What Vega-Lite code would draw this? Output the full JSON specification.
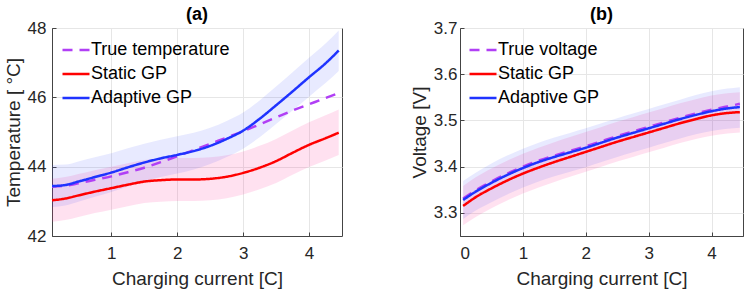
{
  "$schema": "https://vega.github.io/schema/vega-lite/v6.json",
  "padding": {"left": 3, "top": 5, "right": 0, "bottom": 0},
  "background": "white",
  "datasets": {
    "a": [
      {"series": "Adaptive GP", "x": 0.1, "y": 43.44, "lo": 42.84, "hi": 44.05},
      {"series": "Adaptive GP", "x": 0.3, "y": 43.47, "lo": 42.88, "hi": 44.06},
      {"series": "Adaptive GP", "x": 0.5, "y": 43.57, "lo": 42.99, "hi": 44.15},
      {"series": "Adaptive GP", "x": 0.75, "y": 43.70, "lo": 43.13, "hi": 44.27},
      {"series": "Adaptive GP", "x": 1.0, "y": 43.83, "lo": 43.27, "hi": 44.39},
      {"series": "Adaptive GP", "x": 1.25, "y": 43.98, "lo": 43.43, "hi": 44.53},
      {"series": "Adaptive GP", "x": 1.5, "y": 44.12, "lo": 43.58, "hi": 44.66},
      {"series": "Adaptive GP", "x": 1.75, "y": 44.24, "lo": 43.70, "hi": 44.78},
      {"series": "Adaptive GP", "x": 2.0, "y": 44.34, "lo": 43.80, "hi": 44.88},
      {"series": "Adaptive GP", "x": 2.25, "y": 44.45, "lo": 43.92, "hi": 44.98},
      {"series": "Adaptive GP", "x": 2.5, "y": 44.60, "lo": 44.08, "hi": 45.12},
      {"series": "Adaptive GP", "x": 2.75, "y": 44.80, "lo": 44.28, "hi": 45.32},
      {"series": "Adaptive GP", "x": 3.0, "y": 45.04, "lo": 44.52, "hi": 45.56},
      {"series": "Adaptive GP", "x": 3.25, "y": 45.38, "lo": 44.85, "hi": 45.91},
      {"series": "Adaptive GP", "x": 3.5, "y": 45.77, "lo": 45.23, "hi": 46.31},
      {"series": "Adaptive GP", "x": 3.75, "y": 46.17, "lo": 45.62, "hi": 46.72},
      {"series": "Adaptive GP", "x": 4.0, "y": 46.58, "lo": 46.02, "hi": 47.14},
      {"series": "Adaptive GP", "x": 4.25, "y": 46.98, "lo": 46.41, "hi": 47.55},
      {"series": "Adaptive GP", "x": 4.45, "y": 47.35, "lo": 46.76, "hi": 47.93},
      {"series": "Static GP", "x": 0.1, "y": 43.03, "lo": 42.41, "hi": 43.65},
      {"series": "Static GP", "x": 0.3, "y": 43.08, "lo": 42.46, "hi": 43.70},
      {"series": "Static GP", "x": 0.5, "y": 43.17, "lo": 42.55, "hi": 43.79},
      {"series": "Static GP", "x": 0.75, "y": 43.28, "lo": 42.66, "hi": 43.90},
      {"series": "Static GP", "x": 1.0, "y": 43.38, "lo": 42.76, "hi": 44.00},
      {"series": "Static GP", "x": 1.25, "y": 43.48, "lo": 42.86, "hi": 44.10},
      {"series": "Static GP", "x": 1.5, "y": 43.57, "lo": 42.95, "hi": 44.19},
      {"series": "Static GP", "x": 1.75, "y": 43.61, "lo": 42.99, "hi": 44.23},
      {"series": "Static GP", "x": 2.0, "y": 43.63, "lo": 43.01, "hi": 44.25},
      {"series": "Static GP", "x": 2.25, "y": 43.63, "lo": 43.01, "hi": 44.25},
      {"series": "Static GP", "x": 2.5, "y": 43.65, "lo": 43.03, "hi": 44.27},
      {"series": "Static GP", "x": 2.75, "y": 43.71, "lo": 43.09, "hi": 44.33},
      {"series": "Static GP", "x": 3.0, "y": 43.82, "lo": 43.20, "hi": 44.44},
      {"series": "Static GP", "x": 3.25, "y": 43.97, "lo": 43.35, "hi": 44.60},
      {"series": "Static GP", "x": 3.5, "y": 44.16, "lo": 43.53, "hi": 44.80},
      {"series": "Static GP", "x": 3.75, "y": 44.40, "lo": 43.77, "hi": 45.04},
      {"series": "Static GP", "x": 4.0, "y": 44.63, "lo": 43.99, "hi": 45.28},
      {"series": "Static GP", "x": 4.25, "y": 44.82, "lo": 44.18, "hi": 45.48},
      {"series": "Static GP", "x": 4.45, "y": 44.98, "lo": 44.34, "hi": 45.65},
      {"series": "True temperature", "x": 0.1, "y": 43.42},
      {"series": "True temperature", "x": 0.3, "y": 43.45},
      {"series": "True temperature", "x": 0.5, "y": 43.52},
      {"series": "True temperature", "x": 0.75, "y": 43.62},
      {"series": "True temperature", "x": 1.0, "y": 43.72},
      {"series": "True temperature", "x": 1.25, "y": 43.84},
      {"series": "True temperature", "x": 1.5, "y": 43.97},
      {"series": "True temperature", "x": 1.75, "y": 44.13},
      {"series": "True temperature", "x": 2.0, "y": 44.30},
      {"series": "True temperature", "x": 2.25, "y": 44.48},
      {"series": "True temperature", "x": 2.5, "y": 44.66},
      {"series": "True temperature", "x": 2.75, "y": 44.84},
      {"series": "True temperature", "x": 3.0, "y": 45.02},
      {"series": "True temperature", "x": 3.25, "y": 45.22},
      {"series": "True temperature", "x": 3.5, "y": 45.42},
      {"series": "True temperature", "x": 3.75, "y": 45.62},
      {"series": "True temperature", "x": 4.0, "y": 45.80},
      {"series": "True temperature", "x": 4.25, "y": 45.98},
      {"series": "True temperature", "x": 4.45, "y": 46.12}
    ],
    "b": [
      {"series": "Adaptive GP", "x": 0.05, "y": 3.328, "lo": 3.287, "hi": 3.369},
      {"series": "Adaptive GP", "x": 0.25, "y": 3.346, "lo": 3.305, "hi": 3.387},
      {"series": "Adaptive GP", "x": 0.5, "y": 3.365, "lo": 3.323, "hi": 3.407},
      {"series": "Adaptive GP", "x": 0.75, "y": 3.382, "lo": 3.340, "hi": 3.424},
      {"series": "Adaptive GP", "x": 1.0, "y": 3.397, "lo": 3.355, "hi": 3.439},
      {"series": "Adaptive GP", "x": 1.25, "y": 3.410, "lo": 3.368, "hi": 3.452},
      {"series": "Adaptive GP", "x": 1.5, "y": 3.421, "lo": 3.379, "hi": 3.463},
      {"series": "Adaptive GP", "x": 1.75, "y": 3.431, "lo": 3.389, "hi": 3.473},
      {"series": "Adaptive GP", "x": 2.0, "y": 3.441, "lo": 3.399, "hi": 3.483},
      {"series": "Adaptive GP", "x": 2.25, "y": 3.452, "lo": 3.410, "hi": 3.494},
      {"series": "Adaptive GP", "x": 2.5, "y": 3.463, "lo": 3.421, "hi": 3.505},
      {"series": "Adaptive GP", "x": 2.75, "y": 3.473, "lo": 3.431, "hi": 3.515},
      {"series": "Adaptive GP", "x": 3.0, "y": 3.483, "lo": 3.441, "hi": 3.525},
      {"series": "Adaptive GP", "x": 3.25, "y": 3.493, "lo": 3.451, "hi": 3.535},
      {"series": "Adaptive GP", "x": 3.5, "y": 3.503, "lo": 3.461, "hi": 3.545},
      {"series": "Adaptive GP", "x": 3.75, "y": 3.512, "lo": 3.470, "hi": 3.555},
      {"series": "Adaptive GP", "x": 4.0, "y": 3.520, "lo": 3.477, "hi": 3.563},
      {"series": "Adaptive GP", "x": 4.25, "y": 3.526, "lo": 3.482, "hi": 3.569},
      {"series": "Adaptive GP", "x": 4.45, "y": 3.529, "lo": 3.484, "hi": 3.572},
      {"series": "Static GP", "x": 0.05, "y": 3.315, "lo": 3.273, "hi": 3.358},
      {"series": "Static GP", "x": 0.25, "y": 3.334, "lo": 3.291, "hi": 3.377},
      {"series": "Static GP", "x": 0.5, "y": 3.353, "lo": 3.310, "hi": 3.396},
      {"series": "Static GP", "x": 0.75, "y": 3.370, "lo": 3.327, "hi": 3.413},
      {"series": "Static GP", "x": 1.0, "y": 3.385, "lo": 3.342, "hi": 3.428},
      {"series": "Static GP", "x": 1.25, "y": 3.398, "lo": 3.355, "hi": 3.441},
      {"series": "Static GP", "x": 1.5, "y": 3.410, "lo": 3.367, "hi": 3.453},
      {"series": "Static GP", "x": 1.75, "y": 3.421, "lo": 3.378, "hi": 3.464},
      {"series": "Static GP", "x": 2.0, "y": 3.432, "lo": 3.389, "hi": 3.475},
      {"series": "Static GP", "x": 2.25, "y": 3.443, "lo": 3.400, "hi": 3.486},
      {"series": "Static GP", "x": 2.5, "y": 3.454, "lo": 3.411, "hi": 3.497},
      {"series": "Static GP", "x": 2.75, "y": 3.464, "lo": 3.421, "hi": 3.507},
      {"series": "Static GP", "x": 3.0, "y": 3.474, "lo": 3.431, "hi": 3.517},
      {"series": "Static GP", "x": 3.25, "y": 3.484, "lo": 3.441, "hi": 3.527},
      {"series": "Static GP", "x": 3.5, "y": 3.494, "lo": 3.451, "hi": 3.537},
      {"series": "Static GP", "x": 3.75, "y": 3.503, "lo": 3.460, "hi": 3.546},
      {"series": "Static GP", "x": 4.0, "y": 3.511, "lo": 3.467, "hi": 3.554},
      {"series": "Static GP", "x": 4.25, "y": 3.516, "lo": 3.472, "hi": 3.559},
      {"series": "Static GP", "x": 4.45, "y": 3.518, "lo": 3.474, "hi": 3.561},
      {"series": "True voltage", "x": 0.05, "y": 3.331},
      {"series": "True voltage", "x": 0.25, "y": 3.349},
      {"series": "True voltage", "x": 0.5, "y": 3.368},
      {"series": "True voltage", "x": 0.75, "y": 3.385},
      {"series": "True voltage", "x": 1.0, "y": 3.400},
      {"series": "True voltage", "x": 1.25, "y": 3.413},
      {"series": "True voltage", "x": 1.5, "y": 3.424},
      {"series": "True voltage", "x": 1.75, "y": 3.434},
      {"series": "True voltage", "x": 2.0, "y": 3.444},
      {"series": "True voltage", "x": 2.25, "y": 3.455},
      {"series": "True voltage", "x": 2.5, "y": 3.466},
      {"series": "True voltage", "x": 2.75, "y": 3.476},
      {"series": "True voltage", "x": 3.0, "y": 3.486},
      {"series": "True voltage", "x": 3.25, "y": 3.496},
      {"series": "True voltage", "x": 3.5, "y": 3.506},
      {"series": "True voltage", "x": 3.75, "y": 3.515},
      {"series": "True voltage", "x": 4.0, "y": 3.523},
      {"series": "True voltage", "x": 4.25, "y": 3.530},
      {"series": "True voltage", "x": 4.45, "y": 3.536}
    ]
  },
  "hconcat": [
    {
      "width": 290,
      "height": 208,
      "title": {"text": "(a)", "fontSize": 18, "fontWeight": "bold", "font": "Liberation Sans", "color": "#000000", "offset": -5},
      "data": {"name": "a"},
      "layer": [
        {
          "transform": [{"filter": "datum.series === 'Static GP'"}],
          "mark": {"type": "area", "color": "#ff3399", "opacity": 0.15, "interpolate": "monotone"},
          "encoding": {
            "x": {"field": "x", "type": "quantitative", "scale": {"domain": [0.1, 4.5], "nice": false, "zero": false},
              "axis": {"values": [1, 2, 3, 4], "format": "d", "title": "Charging current [C]", "labelPadding": 13, "titlePadding": 8}},
            "y": {"field": "lo", "type": "quantitative", "scale": {"domain": [42, 48], "nice": false, "zero": false},
              "axis": {"values": [42, 44, 46, 48], "format": "d", "title": "Temperature [ °C]", "labelPadding": 10, "titlePadding": 4}},
            "y2": {"field": "hi"}
          }
        },
        {
          "transform": [{"filter": "datum.series === 'Adaptive GP'"}],
          "mark": {"type": "area", "color": "#2030ff", "opacity": 0.1, "interpolate": "monotone"},
          "encoding": {
            "x": {"field": "x", "type": "quantitative"},
            "y": {"field": "lo", "type": "quantitative"},
            "y2": {"field": "hi"}
          }
        },
        {
          "transform": [{"filter": "datum.series === 'True temperature'"}],
          "mark": {"type": "line", "strokeWidth": 2.5, "interpolate": "monotone"},
          "encoding": {
            "x": {"field": "x", "type": "quantitative"},
            "y": {"field": "y", "type": "quantitative"},
            "color": {"field": "series", "type": "nominal",
              "scale": {"domain": ["True temperature", "Static GP", "Adaptive GP"], "range": ["#b13ff5", "#ff0000", "#1f33ff"]},
              "legend": {"orient": "none", "legendX": 9, "legendY": 7, "title": null, "symbolType": "stroke", "symbolSize": 729, "symbolStrokeWidth": 2.5, "labelFontSize": 18, "labelFont": "Liberation Sans", "labelColor": "#000000", "labelOffset": 0, "rowPadding": -1, "padding": 0, "offset": 0}},
            "strokeDash": {"field": "series", "type": "nominal",
              "scale": {"domain": ["True temperature", "Static GP", "Adaptive GP"], "range": [[10, 7], [1, 0], [1, 0]]},
              "legend": {"orient": "none", "legendX": 9, "legendY": 7, "title": null, "symbolType": "stroke", "symbolSize": 729, "symbolStrokeWidth": 2.5, "labelFontSize": 18, "labelFont": "Liberation Sans", "labelColor": "#000000", "labelOffset": 0, "rowPadding": -1, "padding": 0, "offset": 0}}
          }
        },
        {
          "transform": [{"filter": "datum.series !== 'True temperature'"}],
          "mark": {"type": "line", "strokeWidth": 2.5, "interpolate": "monotone"},
          "encoding": {
            "x": {"field": "x", "type": "quantitative"},
            "y": {"field": "y", "type": "quantitative"},
            "color": {"field": "series", "type": "nominal"},
            "strokeDash": {"field": "series", "type": "nominal"},
            "order": {"field": "series", "sort": "descending"}
          }
        }
      ]
    },
    {
      "width": 283,
      "height": 208,
      "title": {"text": "(b)", "fontSize": 18, "fontWeight": "bold", "font": "Liberation Sans", "color": "#000000", "offset": -5},
      "data": {"name": "b"},
      "layer": [
        {
          "transform": [{"filter": "datum.series === 'Static GP'"}],
          "mark": {"type": "area", "color": "#ff3399", "opacity": 0.15, "interpolate": "monotone"},
          "encoding": {
            "x": {"field": "x", "type": "quantitative", "scale": {"domain": [0, 4.5], "nice": false, "zero": false},
              "axis": {"values": [0, 1, 2, 3, 4], "format": "d", "title": "Charging current [C]", "labelPadding": 13, "titlePadding": 8}},
            "y": {"field": "lo", "type": "quantitative", "scale": {"domain": [3.25, 3.7], "nice": false, "zero": false},
              "axis": {"values": [3.3, 3.4, 3.5, 3.6, 3.7], "format": ".1f", "title": "Voltage [V]", "labelPadding": 7, "titlePadding": 4}},
            "y2": {"field": "hi"}
          }
        },
        {
          "transform": [{"filter": "datum.series === 'Adaptive GP'"}],
          "mark": {"type": "area", "color": "#2030ff", "opacity": 0.1, "interpolate": "monotone"},
          "encoding": {
            "x": {"field": "x", "type": "quantitative"},
            "y": {"field": "lo", "type": "quantitative"},
            "y2": {"field": "hi"}
          }
        },
        {
          "transform": [{"filter": "datum.series === 'True voltage'"}],
          "mark": {"type": "line", "strokeWidth": 2.5, "interpolate": "monotone"},
          "encoding": {
            "x": {"field": "x", "type": "quantitative"},
            "y": {"field": "y", "type": "quantitative"},
            "color": {"field": "series", "type": "nominal",
              "scale": {"domain": ["True voltage", "Static GP", "Adaptive GP"], "range": ["#b13ff5", "#ff0000", "#1f33ff"]},
              "legend": {"orient": "none", "legendX": 8, "legendY": 7, "title": null, "symbolType": "stroke", "symbolSize": 729, "symbolStrokeWidth": 2.5, "labelFontSize": 18, "labelFont": "Liberation Sans", "labelColor": "#000000", "labelOffset": 0, "rowPadding": -1, "padding": 0, "offset": 0}},
            "strokeDash": {"field": "series", "type": "nominal",
              "scale": {"domain": ["True voltage", "Static GP", "Adaptive GP"], "range": [[10, 7], [1, 0], [1, 0]]},
              "legend": {"orient": "none", "legendX": 8, "legendY": 7, "title": null, "symbolType": "stroke", "symbolSize": 729, "symbolStrokeWidth": 2.5, "labelFontSize": 18, "labelFont": "Liberation Sans", "labelColor": "#000000", "labelOffset": 0, "rowPadding": -1, "padding": 0, "offset": 0}}
          }
        },
        {
          "transform": [{"filter": "datum.series !== 'True voltage'"}],
          "mark": {"type": "line", "strokeWidth": 2.5, "interpolate": "monotone"},
          "encoding": {
            "x": {"field": "x", "type": "quantitative"},
            "y": {"field": "y", "type": "quantitative"},
            "color": {"field": "series", "type": "nominal"},
            "strokeDash": {"field": "series", "type": "nominal"},
            "order": {"field": "series", "sort": "descending"}
          }
        }
      ]
    }
  ],
  "spacing": 118,
  "bounds": "flush",
  "resolve": {
    "scale": {"x": "independent", "y": "independent", "color": "independent", "strokeDash": "independent"},
    "legend": {"color": "independent", "strokeDash": "independent"}
  },
  "config": {
    "view": {"stroke": "#444444", "strokeWidth": 1},
    "font": "Liberation Sans",
    "axis": {
      "domainColor": "#444444",
      "domainWidth": 1,
      "tickColor": "#444444",
      "tickSize": -4,
      "tickWidth": 1,
      "gridColor": "#e6e6e6",
      "grid": true,
      "labelFont": "Liberation Sans",
      "labelFontSize": 17,
      "labelColor": "#262626",
      "titleFont": "Liberation Sans",
      "titleFontSize": 19,
      "titleFontWeight": "normal",
      "titleColor": "#262626"
    }
  }
}
